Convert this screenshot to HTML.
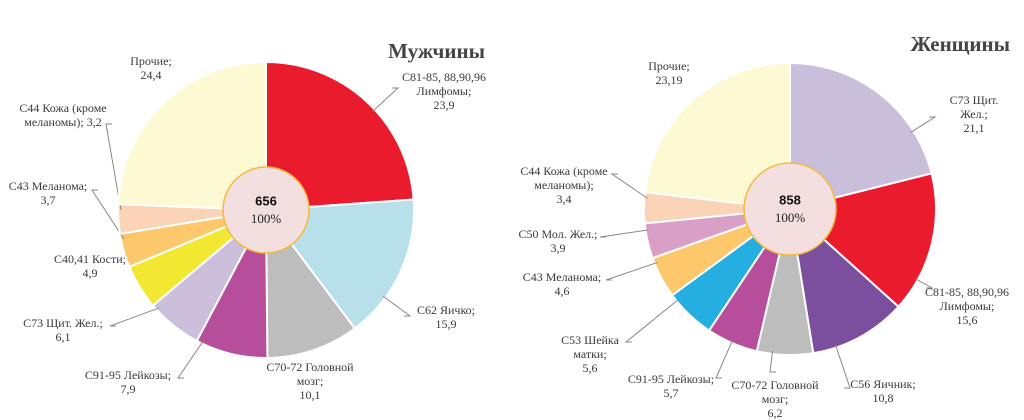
<!DOCTYPE html>
<html><head><meta charset="utf-8">
<style>
html,body{margin:0;padding:0;background:#fff;}
svg{display:block;}
text{font-family:"Liberation Serif",serif;fill:#3a3a3a;font-size:12px;}
.title{font-weight:bold;font-size:21px;fill:#444;}
.ctr{font-family:"Liberation Sans",sans-serif;font-weight:bold;font-size:13px;fill:#111;}
.pct{font-size:13px;fill:#222;}
</style></head>
<body>
<svg id="chart" width="1024" height="420" viewBox="0 0 1024 420">
<text class="title" x="485" y="58" text-anchor="end">Мужчины</text>
<text class="title" x="1010" y="51" text-anchor="end">Женщины</text>
<g id="men"></g>
<g id="women"></g>
</svg>
<script>
const menCategories=["C81-85, 88,90,96 Лимфомы","C62 Яичко","C70-72 Головной мозг","C91-95 Лейкозы","C73 Щит. Жел.","C40,41 Кости","C43 Меланома","C44 Кожа (кроме меланомы)","Прочие"];
const menValues=[23.9,15.9,10.1,7.9,6.1,4.9,3.7,3.2,24.4];
const menLabels=[["C81-85, 88,90,96","Лимфомы;","23,9"],["C62 Яичко;","15,9"],["C70-72 Головной","мозг;","10,1"],["C91-95 Лейкозы;","7,9"],["C73 Щит. Жел.;","6,1"],["C40,41 Кости;","4,9"],["C43 Меланома;","3,7"],["C44 Кожа (кроме","меланомы); 3,2"],["Прочие;","24,4"]];
const menTotal="656";
const womenCategories=["C73 Щит. Жел.","C81-85, 88,90,96 Лимфомы","C56 Яичник","C70-72 Головной мозг","C91-95 Лейкозы","C53 Шейка матки","C43 Меланома","C50 Мол. Жел.","C44 Кожа (кроме меланомы)","Прочие"];
const womenValues=[21.1,15.6,10.8,6.2,5.7,5.6,4.6,3.9,3.4,23.19];
const womenLabels=[["C73 Щит.","Жел.;","21,1"],["C81-85, 88,90,96","Лимфомы;","15,6"],["C56 Яичник;","10,8"],["C70-72 Головной","мозг;","6,2"],["C91-95 Лейкозы;","5,7"],["C53 Шейка","матки;","5,6"],["C43 Меланома;","4,6"],["C50 Мол. Жел.;","3,9"],["C44 Кожа (кроме","меланомы);","3,4"],["Прочие;","23,19"]];
const womenTotal="858";

const NS="http://www.w3.org/2000/svg";
function mk(tag,attrs,parent){const e=document.createElementNS(NS,tag);for(const k in attrs)e.setAttribute(k,attrs[k]);parent.appendChild(e);return e;}

const menLayout={cx:266,cy:210,r:148,ir:43,colors:["#ea1b2d","#b8e0ea","#bdbdbd","#b74e9c","#cbbfdc","#f2e832","#fdc86c","#fbd3b6","#fdf9d2"],
 lab:[[444,78],[446,311],[310,368],[128,376],[63,324],[90,260],[48,187],[63,109],[151,62]],
 end:[[398,88],[410,316],null,[178,378],[110,326],null,[92,190],[106,124],null]};
const womenLayout={cx:790,cy:209,r:146,ir:46,colors:["#c9bfdb","#ea1b2d","#7b4f9e","#bdbdbd","#b74e9c","#25aee0","#fdc86c","#d99fc6","#fbd3b6","#fdf9d2"],
 lab:[[974,101],[967,293],[883,385],[775,386],[671,380],[590,341],[562,278],[558,235],[564,172],[669,67]],
 end:[[935,117],[932,288],[850,388],[770,372],[716,378],[626,342],[606,280],[600,237],[612,174],null]};

function pie(g,values,labels,L,total,prefix){
  const sum=values.reduce((a,b)=>a+b,0);
  let a0=-Math.PI/2;
  const pt=(a,r)=>[L.cx+r*Math.cos(a),L.cy+r*Math.sin(a)];
  values.forEach((v,i)=>{
    const a1=a0+v/sum*2*Math.PI;
    const p0=pt(a0,L.r),p1=pt(a1,L.r);
    const large=(a1-a0)>Math.PI?1:0;
    const p=mk('path',{d:`M${L.cx},${L.cy}L${p0[0]},${p0[1]}A${L.r},${L.r} 0 ${large} 1 ${p1[0]},${p1[1]}Z`,fill:L.colors[i],stroke:'#fff','stroke-width':2},g);
    
    
    if(L.end[i]){
      const e=L.end[i];
      let ae=Math.atan2(e[1]-L.cy,e[0]-L.cx);
      while(ae<a0)ae+=2*Math.PI;
      while(ae>a0+2*Math.PI)ae-=2*Math.PI;
      const pad=Math.min(0.04,(a1-a0)/3);
      let a=ae;
      if(a>a1-pad||a<a0+pad){
        const d0=Math.min(Math.abs(a-a0),Math.abs(a-2*Math.PI-a0));
        const d1=Math.min(Math.abs(a-a1),Math.abs(a-2*Math.PI-a1));
        a=d0<d1?a0+pad:a1-pad;
      }
      const s=pt(a,L.r*0.98);
      const dir=e[0]>L.cx?-6:6;
      const ln=mk('polyline',{points:`${s[0]},${s[1]} ${e[0]},${e[1]} ${e[0]+dir},${e[1]}`,fill:'none',stroke:'#888','stroke-width':1},g);
      
      
    }
    const t=mk('text',{x:L.lab[i][0],y:L.lab[i][1],'text-anchor':'middle','dominant-baseline':'middle'},g);
    
    
    labels[i].forEach((s,j)=>{const ts=mk('tspan',{x:L.lab[i][0],dy:j?14:0},t);ts.textContent=s;});
    a0=a1;
  });
  const c=mk('circle',{cx:L.cx,cy:L.cy,r:L.ir,fill:'#f3dfdf',stroke:'#f6b93b','stroke-width':1.5},g);
  
  
  const t1=mk('text',{x:L.cx,y:L.cy-8,'text-anchor':'middle','dominant-baseline':'middle',class:'ctr'},g);
  t1.textContent=total;
  
  
  const t2=mk('text',{x:L.cx,y:L.cy+10,'text-anchor':'middle','dominant-baseline':'middle',class:'pct'},g);
  t2.textContent="100%";
  
  
}
pie(document.getElementById('men'),menValues,menLabels,menLayout,menTotal,'men');
pie(document.getElementById('women'),womenValues,womenLabels,womenLayout,womenTotal,'women');
</script>
</body></html>
